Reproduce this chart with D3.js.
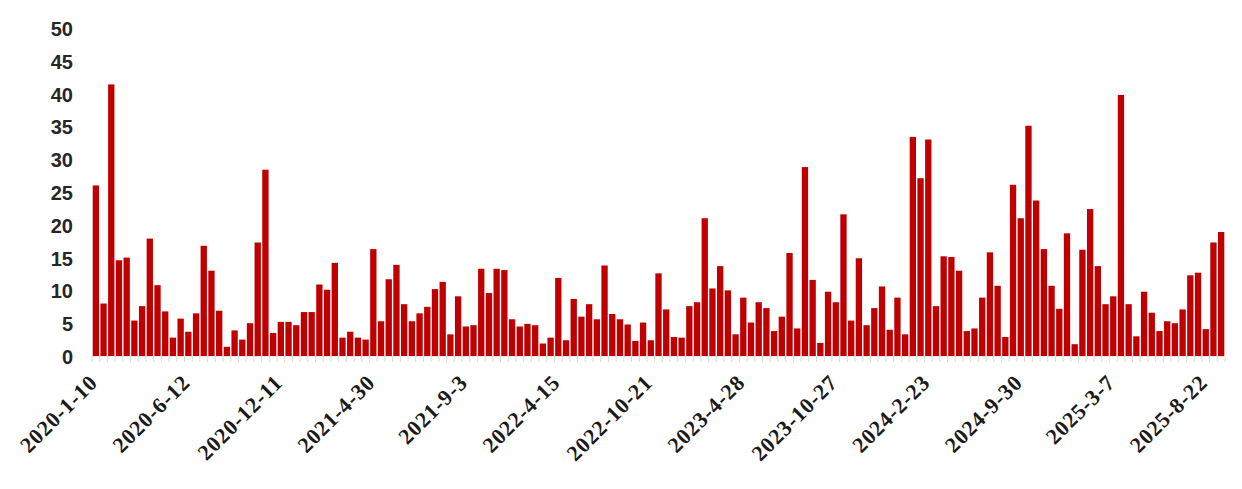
<!DOCTYPE html>
<html>
<head>
<meta charset="utf-8">
<script src="https://cdn.jsdelivr.net/npm/d3@7"></script>
<style>
  body { margin: 0; background: #fff; }
  svg { display: block; }
</style>
</head>
<body>
<svg id="chart"></svg>
<script>
var width = 1242;
var height = 489;

// bar values, one per period
var values = [
  26, 8, 41.4, 14.6, 15.0, 5.4, 7.6, 17.9, 10.8, 6.8,
  2.8, 5.7, 3.7, 6.5, 16.8, 13.0, 6.9, 1.4, 3.9, 2.5,
  5.0, 17.3, 28.4, 3.5, 5.2, 5.2, 4.7, 6.7, 6.7, 10.9,
  10.1, 14.2, 2.8, 3.7, 2.8, 2.5, 16.3, 5.3, 11.7, 13.9,
  7.9, 5.3, 6.5, 7.5, 10.2, 11.3, 3.3, 9.1, 4.5, 4.7,
  13.3, 9.6, 13.3, 13.1, 5.6, 4.5, 4.9, 4.7, 1.9, 2.8,
  11.9, 2.4, 8.7, 6.0, 7.9, 5.6, 13.8, 6.4, 5.6, 4.8,
  2.3, 5.1, 2.4, 12.6, 7.1, 2.9, 2.8, 7.6, 8.2, 21.0,
  10.3, 13.7, 10.0, 3.3, 8.9, 5.1, 8.2, 7.3, 3.8, 6.0,
  15.7, 4.2, 28.8, 11.6, 2.0, 9.8, 8.2, 21.6, 5.4, 14.9,
  4.7, 7.3, 10.6, 4.0, 8.9, 3.3, 33.4, 27.1, 33.0, 7.6,
  15.2, 15.1, 13.0, 3.8, 4.2, 8.9, 15.8, 10.7, 2.9, 26.1,
  21.0, 35.1, 23.7, 16.3, 10.7, 7.2, 18.7, 1.8, 16.2, 22.4,
  13.7, 7.9, 9.1, 39.8, 7.9, 3.0, 9.8, 6.6, 3.8, 5.3,
  5.0, 7.1, 12.3, 12.7, 4.1, 17.3, 18.9
];

// date labels shown on the axis, one every 12 periods
var tickLabels = [
  "2020-1-10", "2020-6-12", "2020-12-11", "2021-4-30", "2021-9-3",
  "2022-4-15", "2022-10-21", "2023-4-28", "2023-10-27", "2024-2-23",
  "2024-9-30", "2025-3-7", "2025-8-22"
];
var tickEvery = 12;

var yTicks = [0, 5, 10, 15, 20, 25, 30, 35, 40, 45, 50];

var categories = d3.range(values.length);

var x = d3.scaleBand()
  .domain(categories)
  .range([92, 1225])
  .paddingInner(0.18)
  .paddingOuter(0.09);

var y = d3.scaleLinear()
  .domain([0, 50])
  .range([356, 28]);

var svg = d3.select("#chart")
  .attr("width", width)
  .attr("height", height);

// faint category ticks under the bars
var step = x.step();
svg.append("g")
  .selectAll("line")
  .data(d3.range(values.length + 1))
  .enter()
  .append("line")
  .attr("x1", function (d) { return 92 + d * step; })
  .attr("x2", function (d) { return 92 + d * step; })
  .attr("y1", y(0))
  .attr("y2", y(0) + 6)
  .style("stroke", "#d9d9d9")
  .style("stroke-width", 1);

svg.append("line")
  .attr("x1", 92).attr("x2", 1225)
  .attr("y1", y(0) + 0.5).attr("y2", y(0) + 0.5)
  .style("stroke", "#e6e6e6");

// bars
svg.append("g")
  .selectAll("rect")
  .data(values)
  .enter()
  .append("rect")
  .attr("x", function (d, i) { return x(i); })
  .attr("y", function (d) { return y(d); })
  .attr("width", x.bandwidth())
  .attr("height", function (d) { return y(0) - y(d); })
  .style("fill", "#c00000");

// y axis labels
var yaxis = d3.axisLeft(y).tickValues(yTicks).tickSize(0).tickPadding(0);
var gy = svg.append("g")
  .attr("transform", "translate(73,1)")
  .call(yaxis);
gy.select(".domain").remove();
gy.selectAll("text")
  .style("font-family", "'Liberation Sans', Arial, sans-serif")
  .style("font-weight", "bold")
  .style("font-size", "20px")
  .style("fill", "#262626");

// x axis date labels, rotated
svg.append("g")
  .selectAll("text")
  .data(tickLabels)
  .enter()
  .append("text")
  .attr("transform", function (d, i) {
    var cx = x(i * tickEvery) + x.bandwidth() / 2 + 3;
    return "translate(" + cx + "," + (y(0) + 28) + ") rotate(-45)";
  })
  .attr("text-anchor", "end")
  .style("font-family", "'Liberation Serif', 'Times New Roman', serif")
  .style("font-weight", "bold")
  .style("font-size", "22px")
  .style("letter-spacing", "0.8px")
  .style("fill", "#1a1a1a")
  .text(function (d) { return d; });
</script>
</body>
</html>
